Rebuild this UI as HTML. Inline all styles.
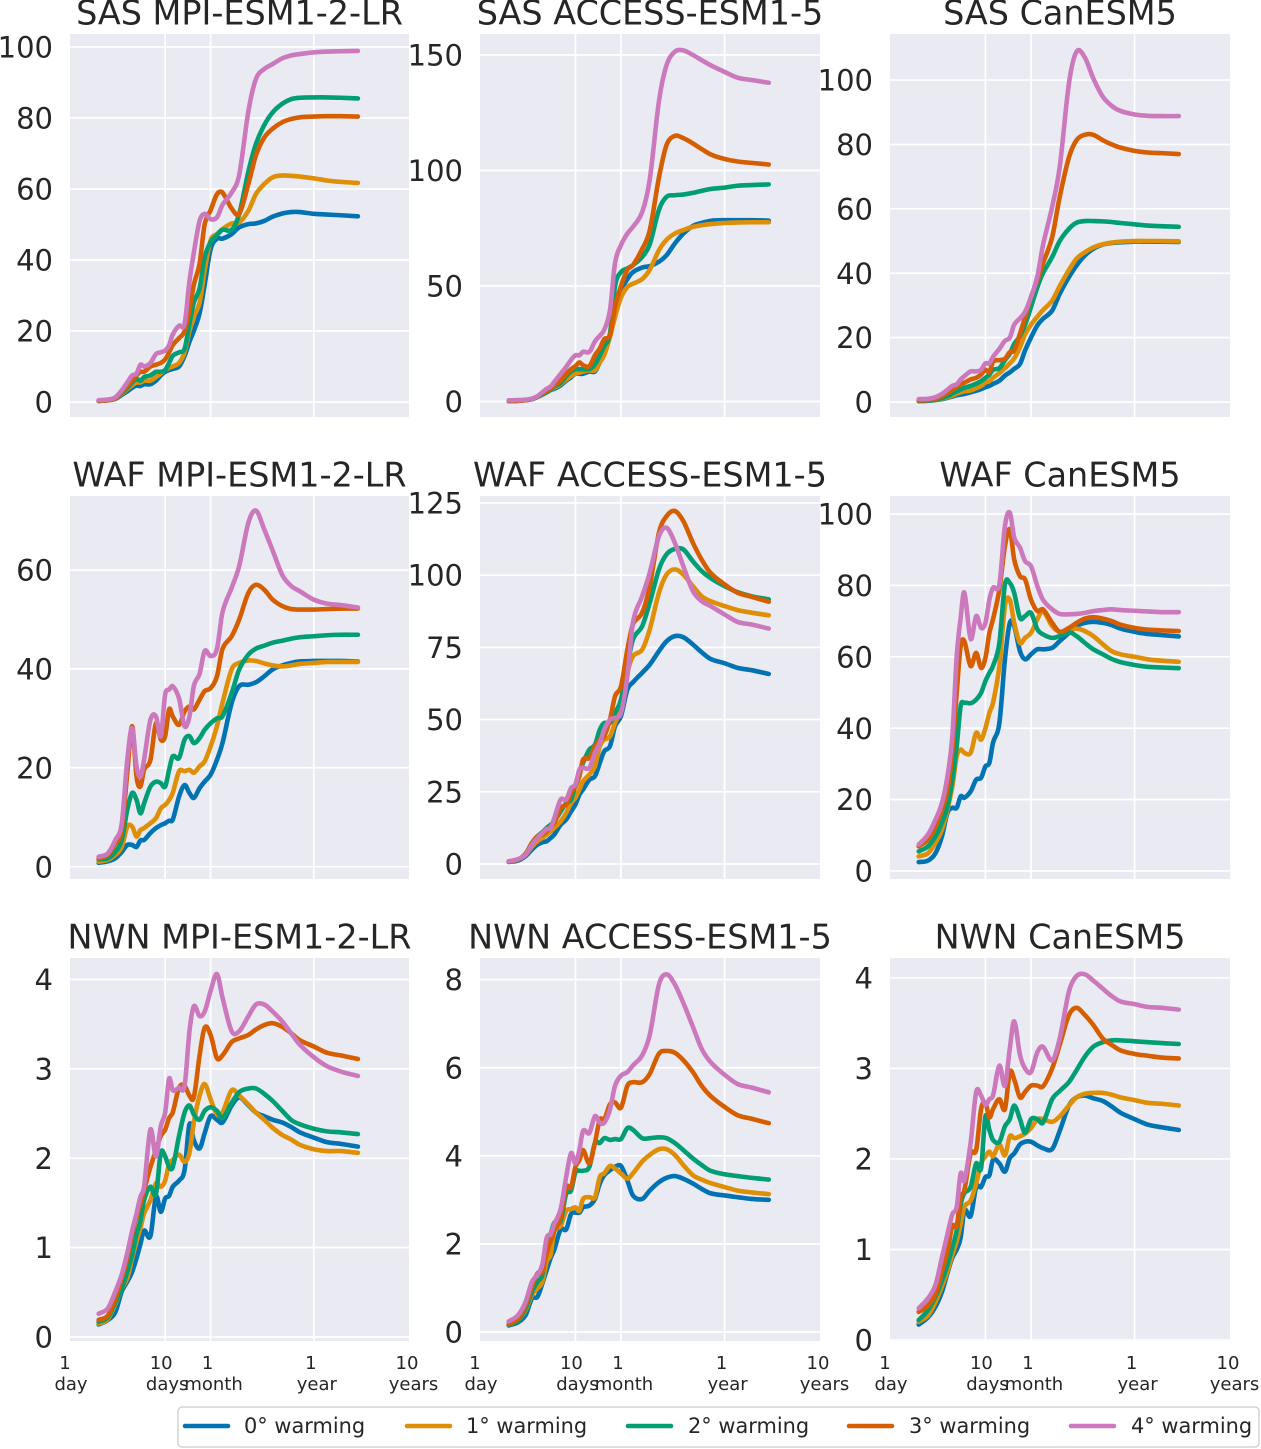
<!DOCTYPE html>
<html lang="en">
<head>
<meta charset="utf-8">
<title>Warming response by region and climate model</title>
<style>
html,body{margin:0;padding:0;background:#fff;width:1261px;height:1449px;overflow:hidden}
svg{display:block;font-family:"DejaVu Sans","Liberation Sans",sans-serif}
text{fill:#262626}
</style>
</head>
<body>
<svg id="chart" xmlns="http://www.w3.org/2000/svg" width="1261" height="1449" viewBox="0 0 1261 1449">
  <g id="panels"></g>
  <g>
    <rect x="178" y="1407" width="1081" height="40" rx="4" fill="#fff" stroke="#cccccc" stroke-width="1.3"/>
    <g>
      <line x1="185" x2="228" y1="1426" y2="1426" stroke="#0173b2" stroke-width="4.5" stroke-linecap="round"/>
      <text x="244" y="1433" font-size="20.9">0° warming</text>
    </g>
    <g>
      <line x1="407" x2="450" y1="1426" y2="1426" stroke="#de8f05" stroke-width="4.5" stroke-linecap="round"/>
      <text x="466" y="1433" font-size="20.9">1° warming</text>
    </g>
    <g>
      <line x1="628" x2="671" y1="1426" y2="1426" stroke="#029e73" stroke-width="4.5" stroke-linecap="round"/>
      <text x="688" y="1433" font-size="20.9">2° warming</text>
    </g>
    <g>
      <line x1="849" x2="892" y1="1426" y2="1426" stroke="#d55e00" stroke-width="4.5" stroke-linecap="round"/>
      <text x="909" y="1433" font-size="20.9">3° warming</text>
    </g>
    <g>
      <line x1="1071" x2="1114" y1="1426" y2="1426" stroke="#cc78bc" stroke-width="4.5" stroke-linecap="round"/>
      <text x="1131" y="1433" font-size="20.9">4° warming</text>
    </g>
  </g>
</svg>
<script>
// Time axis categories (days after onset)
const days = [2,2.5,3,3.5,4,4.5,5,5.5,6,7,
  8,9,10,11,12,14,16,18,20,23,
  26,30,35,40,50,60,75,90,110,135,
  170,210,260,365,500,700,1060];
const xTickDays = [1,10,30,365,3650];
const xTickNumbers = ['1','10','1','1','10'];
const xTickUnits = ['day','days','month','year','years'];
const xGridDays = [10,30,365];

// SAS MPI-ESM1-2-LR
const sasMpi0 = [.3,.5,.9,2,3,4,4.6,4.5,5,5, 6,7.5,8.5,9,9.3,10,13,17,20,25, 33,43,46,46,47.3,49.2,50.1,50.3,51,52.2, 53.1,53.5,53.5,53,52.8,52.6,52.3];
const sasMpi1 = [.3,.5,1,2.3,3.6,4.7,5.5,5.5,6,6, 7,8,9,9.6,10,11,14,20,24,28, 37,45.5,47.3,48.7,50.3,50.6,53.9,58.6,61.4,63.3, 63.8,63.7,63.5,63,62.4,62,61.7];
const sasMpi2 = [.3,.5,1,2.5,4,5.5,6.5,6,7,7.5, 8.5,8.5,9,11,13,14,15,22,28,32, 40.7,45,47,48.5,48.5,53,65,72.7,78,81.6, 84,85.3,85.7,85.8,85.8,85.7,85.5];
const sasMpi3 = [.3,.5,1,2.8,4.5,6,7.5,8.5,8.5,10, 10.5,11,12,14,16,18,20,26,33,39, 50,54,58.5,59,54.5,53,61.5,69.5,74.5,77, 78.8,79.7,80.2,80.4,80.5,80.5,80.4];
const sasMpi4 = [.5,.7,1.3,3.3,5.5,7.5,8,10.5,10,11, 13.5,14,14.5,16,19,21.5,22,34,42,51, 53,51.5,52,55.5,59,64,82,91,93.8,95.2, 96.8,97.6,98,98.5,98.7,98.8,98.9];
const sasMpiTicks = [0,20,40,60,80,100];

// SAS ACCESS-ESM1-5
const sasAcc0 = [.2,.3,.6,1,2,3,4,5,5.5,7, 9,10.5,12,12,12,13,13,17,21,29, 39.5,48,53,56,58,58.6,60.5,63.3,68.4,72.7, 76,77.3,78.2,78.5,78.5,78.5,78.3];
const sasAcc1 = [.2,.3,.6,1,2,3,4,5,6,7.5, 9.5,11,12,12.5,13,13.5,13.5,17,20,28, 36.6,45,49.6,51,53,57,65.5,70,72.7,74.2, 75.6,76.3,76.8,77.3,77.5,77.6,77.6];
const sasAcc2 = [.2,.3,.6,1,2,3,4,5,6.5,8, 11,13,14,14,14,14,16,20,24,29.4, 50,56,57.6,59,62.6,68,83,88.6,89.3,89.6, 90.3,91.2,92,92.6,93.4,93.7,94];
const sasAcc3 = [.2,.3,.6,1.2,2.2,3.5,4.5,5.5,7,9, 12,14,15.3,16.9,15.7,15.3,20,23,27,28.7, 41,50,57,59,66,74,97,111,115,114, 111.7,109.3,107,105,103.9,103.3,102.6];
const sasAcc4 = [.5,.6,.8,1.2,2.3,4,5.5,6.5,8.5,12, 15,18,20,20,21.5,21.5,26,28.5,31,39.5, 60,67.7,72.7,75.6,82,96,130,145.6,151.4,152, 150,147.8,145.6,142.7,140.2,139.2,138];
const sasAccTicks = [0,50,100,150];

// SAS CanESM5
const sasCan0 = [.3,.4,.6,.9,1.3,1.7,2.1,2.3,2.5,3, 3.5,4,4.6,5,5.6,6.6,8.2,9.2,10.3,11.8, 16,20,23.8,25.8,28.4,33.6,38.8,42.4,45.5,47.6, 48.9,49.4,49.6,49.8,49.8,49.8,49.7];
const sasCan1 = [.3,.4,.7,1,1.5,2,2.6,3,3.3,3.6, 4.3,5,6,6.5,7.5,9,10.5,12,13.5,17, 21,24,26.5,28.5,31.5,36,41,44.5,46.5,48, 49,49.5,49.8,50,50,50,49.9];
const sasCan2 = [.3,.4,.7,1.2,1.8,2.6,3.3,3.9,4.4,5, 5.7,6.5,7.5,8.5,10,10.5,13,15,18,20.5, 24,29.5,35.7,40,45,50,53.8,55.7,56.2,56.2, 56.1,55.9,55.6,55.2,54.8,54.6,54.4];
const sasCan3 = [.5,.6,1,1.8,2.8,3.8,4.7,5.5,6,7, 7.5,8.5,10,9.3,12.5,13,13.4,15.5,16,21.2, 26.3,32.6,37.8,43,51.2,63.7,76,81.3,83,83, 81.3,80,79,78,77.5,77.3,77];
const sasCan4 = [.9,1,1.5,2.5,3.8,5,5.5,7,8,9.5, 9.5,10,12,12,14,16.5,19,20,24,26, 28,32.6,39,48.6,60.6,73,99,108.8,107,100.5, 94.8,92,90.4,89.3,88.9,88.8,88.8];
const sasCanTicks = [0,20,40,60,80,100];

// WAF MPI-ESM1-2-LR
const wafMpi0 = [.8,1.1,1.7,3,4.4,4.4,4,5.3,5.4,6.8, 7.8,8.4,8.8,9.3,9.5,14.2,16.5,14.9,13.9,15.9, 17.2,18.6,21.6,25,33.1,36.5,36.8,37.3,38.5,39.9, 40.7,41.2,41.5,41.6,41.6,41.6,41.5];
const wafMpi1 = [1,1.4,2.4,4,8.1,8.1,6.1,7.4,7.8,8.8, 9.8,11.8,12.5,13.5,14.9,19.3,19.3,19.6,19,20.3, 21.3,24.3,28.4,33.1,39.9,41.2,41.7,41.6,41.1,40.7, 40.5,40.7,41,41.2,41.4,41.4,41.4];
const wafMpi2 = [1.5,1.7,3,5.4,11.5,14.9,13.5,10.8,12.8,16.2, 17.2,16.9,16.2,19.6,22.3,22,25.7,26.4,25,26, 27.7,29,30,30.4,35.1,39.9,42.9,44.1,44.7,45.3, 45.7,46.1,46.4,46.6,46.8,46.9,46.9];
const wafMpi3 = [1.7,2.4,4.7,7.4,19,28.4,18.2,16.2,19.6,21.6, 29,25.7,26.4,31.8,30.4,28.7,31.4,32.4,31.8,33.8, 35.5,36.1,38.5,44,46.6,50,55.4,57,56,54, 52.7,52.1,52,52,52.1,52.2,52.2];
const wafMpi4 = [2,2.7,5.4,8.8,21.6,28,20.3,18.2,21.6,29.7, 30.4,26.4,34.8,35.8,36.5,34,28.4,30.4,36.5,39, 43.6,42.6,44,51.4,56.4,60.8,69.6,72,68.2,63.9, 59,56.8,55.7,54,53.2,52.9,52.4];
const wafMpiTicks = [0,20,40,60];

// WAF ACCESS-ESM1-5
const wafAcc0 = [.7,1.2,2.7,5,6.7,7.5,7.9,9,10.2,13.6, 15.4,18.2,20.6,24,25.8,29.2,30.4,35,39,40.8, 47.7,51.2,60.4,62.9,66.2,69,73.7,77.1,78.9,78.5, 76,73.3,71,69.5,67.9,67.1,65.8];
const wafAcc1 = [.9,1.5,3.2,6,7.9,9,10.2,11.3,12.5,14.8, 17.7,21.1,22.9,25.8,28.6,31,33.8,40.8,43,44.2, 48.8,54,66.2,71.9,74.2,81.2,93.9,100.2,102,100.2, 96.2,92.7,91,89.3,87.9,87,86.1];
const wafAcc2 = [.9,1.5,3.5,7.3,9.6,11,12.5,13.6,14.8,18.2, 21.1,22.3,27.5,31.5,35,39.6,41.3,46.5,48.8,48.8, 52.3,56.9,68.5,77.7,82.3,90.4,102,107.2,109.1,108.9, 104.8,101.4,99,96.2,94.1,92.7,91.6];
const wafAcc3 = [.9,1.5,3.5,7.3,9.6,10.2,11.3,13,14.2,19.4, 20.6,24.6,26.9,30.4,36.1,36.7,40.8,43,44.2,50, 58.1,61.5,74.2,82.9,87,96.2,114.7,120.4,122.2,118.7, 111.2,105.4,100.8,96.8,93.9,92.5,90.8];
const wafAcc4 = [.9,1.7,3.2,6.7,9,10.7,12.1,12.5,15.9,22.3, 22.3,26.3,27.5,32.7,33.3,33.3,38.5,41.9,46.5,50, 50.6,52.3,65,83.5,92.7,100.8,113.5,116.4,111.2,103.1, 94.5,91,89.3,86.4,83.8,82.9,81.5];
const wafAccTicks = [0,25,50,75,100,125];

// WAF CanESM5
const wafCan0 = [2.5,2.9,5,9.7,16.3,17.7,17.7,20.9,20.5,22.3, 25.6,26.1,29.3,30.3,35.9,41.5,59.3,69.5,68.6,61.6, 59.3,60.7,62.1,62.1,62.5,64.4,66.7,68.6,69.5,69.8, 69.5,68.9,67.9,67,66.4,66.1,65.7];
const wafCan1 = [4.1,5,7.9,11.6,17.2,23.7,32.1,34,33.1,33.1, 38.7,36.8,40,44.3,47.1,57.4,74.2,76,69.5,63.9, 65.3,66.7,70.5,72.8,68.6,67,67.7,67.9,67.2,65.8, 63.5,61.6,60.7,60,59.3,58.9,58.6];
const wafCan2 = [5.5,6.9,9.7,13.5,18.1,25.6,35,46.2,47.1,47, 48,49.9,53.2,55.5,57.4,63.9,80.3,80.7,77.9,70.9, 71.4,72.3,67.7,66.3,65.3,65.8,66.9,65.8,63.9,62.1, 60.7,59.4,58.5,57.7,57.2,57,56.8];
const wafCan3 = [6.9,8.8,12.5,17.2,22.8,34,49.9,63,64.4,57.4, 61.1,56.9,59.7,66.7,70.5,78.9,91,95.7,87.3,82.6, 81.7,76,72.8,73.3,69.5,67,68.1,69.5,70.7,71.1, 70.7,70,69,68.1,67.6,67.4,67.2];
const wafCan4 = [7.4,10.2,14.4,19,26.5,37.8,60.2,70.9,78,65, 71.4,68.1,69.5,76,79.3,80.3,96.6,100.4,93.4,90.6, 86.8,85.4,79.8,76,73.3,72,71.9,72,72.3,72.8, 73.1,73.3,73.1,72.9,72.7,72.5,72.5];
const wafCanTicks = [0,20,40,60,80,100];

// NWN MPI-ESM1-2-LR
const nwnMpi0 = [.14,.19,.28,.51,.62,.73,.88,1.04,1.19,1.13, 1.57,1.4,1.55,1.58,1.68,1.75,1.87,2.38,2.2,2.11, 2.28,2.47,2.43,2.4,2.59,2.68,2.59,2.51,2.47,2.43, 2.4,2.35,2.29,2.23,2.18,2.16,2.13];
const nwnMpi1 = [.15,.2,.37,.54,.66,.88,1.07,1.22,1.38,1.53, 1.72,1.68,1.75,1.94,1.98,2.04,1.96,2.06,2.4,2.7, 2.83,2.66,2.49,2.51,2.76,2.7,2.6,2.51,2.43,2.34, 2.26,2.21,2.15,2.1,2.08,2.08,2.06];
const nwnMpi2 = [.17,.22,.39,.54,.73,.92,1.15,1.3,1.53,1.68, 1.6,2.06,2.02,1.9,1.9,2.25,2.51,2.59,2.49,2.43, 2.53,2.57,2.53,2.45,2.62,2.74,2.78,2.78,2.72,2.64, 2.53,2.43,2.38,2.33,2.3,2.29,2.27];
const nwnMpi3 = [.19,.24,.43,.66,.88,1.15,1.34,1.49,1.64,1.9, 2.09,2.25,2.32,2.45,2.51,2.79,2.81,2.7,2.68,3.15, 3.46,3.38,3.12,3.15,3.3,3.34,3.38,3.44,3.49,3.51, 3.47,3.4,3.32,3.25,3.18,3.15,3.11];
const nwnMpi4 = [.26,.32,.51,.7,.94,1.19,1.38,1.57,1.68,2.32, 2.02,2.36,2.51,2.89,2.76,2.79,2.81,3.42,3.7,3.59, 3.64,3.87,4.06,3.8,3.42,3.42,3.59,3.72,3.72,3.64, 3.53,3.4,3.27,3.13,3.03,2.97,2.92];
const nwnMpiTicks = [0,1,2,3,4];

// NWN ACCESS-ESM1-5
const nwnAcc0 = [.15,.22,.38,.76,.8,1.1,1.41,1.68,1.87,2.33, 2.33,2.68,2.71,2.71,2.83,2.87,3.02,3.37,3.56,3.67, 3.75,3.77,3.44,3.1,3.02,3.21,3.4,3.5,3.54,3.48, 3.37,3.25,3.15,3.1,3.06,3.02,3];
const nwnAcc1 = [.17,.26,.49,.84,.99,1.14,1.6,1.76,2.29,2.41, 2.75,2.79,2.83,2.75,3.02,3.06,3.06,3.52,3.6,3.77, 3.71,3.6,3.48,3.6,3.87,4.02,4.15,4.15,4.02,3.79, 3.56,3.46,3.38,3.29,3.21,3.17,3.13];
const nwnAcc2 = [.17,.26,.53,.91,1.14,1.3,1.91,2.22,2.48,2.52, 3.14,3.21,3.63,3.66,3.66,3.75,4.29,4.29,4.4,4.36, 4.38,4.38,4.63,4.59,4.4,4.4,4.42,4.4,4.29,4.13, 3.94,3.79,3.66,3.58,3.54,3.5,3.46];
const nwnAcc3 = [.18,.3,.6,1.03,1.33,1.37,1.79,2.06,2.29,2.6, 3.29,3.29,3.75,3.9,4.13,3.83,4.29,4.82,4.82,5.17, 5.21,5.09,5.59,5.67,5.67,5.86,6.32,6.38,6.34,6.17, 5.9,5.59,5.36,5.11,4.92,4.84,4.74];
const nwnAcc4 = [.24,.38,.68,1.14,1.3,1.53,2.14,2.22,2.45,2.79, 3.52,4.06,3.83,4.13,4.56,4.52,4.9,4.75,4.75,5.05, 5.59,5.82,5.9,6.05,6.28,6.74,7.89,8.12,7.89,7.47, 6.93,6.43,6.13,5.84,5.63,5.55,5.44];
const nwnAccTicks = [0,2,4,6,8];

// NWN CanESM5
const nwnCan0 = [.17,.25,.37,.53,.74,.91,1,1.13,1.43,1.37, 1.69,1.69,1.8,1.82,1.99,1.95,1.86,2.01,2.06,2.16, 2.19,2.19,2.15,2.12,2.11,2.31,2.59,2.68,2.7,2.67, 2.64,2.58,2.51,2.44,2.38,2.35,2.32];
const nwnCan1 = [.2,.27,.42,.59,.76,.94,1.09,1.28,1.47,1.54, 1.73,1.95,2.03,2.08,2.03,2.16,2.04,2.25,2.23,2.25, 2.28,2.34,2.44,2.44,2.41,2.47,2.59,2.68,2.72,2.73, 2.73,2.71,2.68,2.65,2.62,2.61,2.59];
const nwnCan2 = [.22,.33,.48,.65,.83,1.02,1.21,1.5,1.62,1.69, 1.95,1.9,2.47,2.32,2.21,2.19,2.36,2.44,2.59,2.44, 2.29,2.44,2.44,2.4,2.66,2.75,2.85,2.98,3.13,3.24, 3.29,3.31,3.31,3.3,3.29,3.28,3.27];
const nwnCan3 = [.31,.38,.51,.76,.98,1.26,1.26,1.58,1.65,2.06, 2.1,2.55,2.62,2.46,2.55,2.66,2.55,2.96,2.88,2.68, 2.74,2.81,2.81,2.8,3,3.26,3.59,3.67,3.59,3.48, 3.33,3.26,3.2,3.16,3.14,3.12,3.11];
const nwnCan4 = [.35,.46,.61,.91,1.17,1.39,1.47,1.84,1.76,2.18, 2.74,2.7,2.6,2.66,2.7,3.03,2.81,3.22,3.52,3.15, 3,2.96,3.18,3.24,3.09,3.33,3.85,4.02,4.04,3.97, 3.88,3.8,3.74,3.71,3.68,3.67,3.65];
const nwnCanTicks = [0,1,2,3,4];

const warmingLevels = ['0','1','2','3','4'];
const seriesColors = ['#0173b2','#de8f05','#029e73','#d55e00','#cc78bc'];

const panelTitles = ['SAS MPI-ESM1-2-LR','SAS ACCESS-ESM1-5','SAS CanESM5',
  'WAF MPI-ESM1-2-LR','WAF ACCESS-ESM1-5','WAF CanESM5',
  'NWN MPI-ESM1-2-LR','NWN ACCESS-ESM1-5','NWN CanESM5'];
const panelSeries = [
  [sasMpi0,sasMpi1,sasMpi2,sasMpi3,sasMpi4],[sasAcc0,sasAcc1,sasAcc2,sasAcc3,sasAcc4],[sasCan0,sasCan1,sasCan2,sasCan3,sasCan4],
  [wafMpi0,wafMpi1,wafMpi2,wafMpi3,wafMpi4],[wafAcc0,wafAcc1,wafAcc2,wafAcc3,wafAcc4],[wafCan0,wafCan1,wafCan2,wafCan3,wafCan4],
  [nwnMpi0,nwnMpi1,nwnMpi2,nwnMpi3,nwnMpi4],[nwnAcc0,nwnAcc1,nwnAcc2,nwnAcc3,nwnAcc4],[nwnCan0,nwnCan1,nwnCan2,nwnCan3,nwnCan4]];
const panelTicks = [sasMpiTicks,sasAccTicks,sasCanTicks,wafMpiTicks,wafAccTicks,wafCanTicks,nwnMpiTicks,nwnAccTicks,nwnCanTicks];
const yLower = [-4.23,-6.71,-4.66,-2.49,-5.19,-2.24,-0.045,-0.204,-0.011];
const yUpper = [103.66,159.1,114.3,74.96,127.4,105.04,4.24,8.49,4.22];

// Layout
const NS = 'http://www.w3.org/2000/svg';
const colLeft = [70,480,890];
const colWidth = [339,340,340];
const rowTop = [34,496,958];
const plotH = 383;
const xMinDay = 1, xMaxDay = 3650;
const numberNudge = [-5,-4,-3,-3,-2];
const unitNudge = [1,2,3,3,4.5];

function slug(s){return s.toLowerCase().replace(/[^a-z0-9]+/g,'-');}
function make(tag, parent, attrs){
  const el = document.createElementNS(NS, tag);
  for (const k in attrs) el.setAttribute(k, attrs[k]);
  parent.appendChild(el);
  return el;
}
function smoothPath(px, py){
  const n = px.length, slope = [];
  for (let i = 0; i < n; i++){
    const a = Math.max(0, i-1), b = Math.min(n-1, i+1);
    slope.push((py[b]-py[a])/(px[b]-px[a]));
  }
  let d = 'M' + px[0].toFixed(2) + ' ' + py[0].toFixed(2);
  for (let i = 0; i < n-1; i++){
    const h = (px[i+1]-px[i])/3;
    d += 'C' + (px[i]+h).toFixed(2) + ' ' + (py[i]+slope[i]*h).toFixed(2) + ' ' +
         (px[i+1]-h).toFixed(2) + ' ' + (py[i+1]-slope[i+1]*h).toFixed(2) + ' ' +
         px[i+1].toFixed(2) + ' ' + py[i+1].toFixed(2);
  }
  return d;
}

const root = document.getElementById('panels');
panelTitles.forEach(function(title, p){
  const left = colLeft[p % 3], plotW = colWidth[p % 3], top = rowTop[Math.floor(p / 3)], bottom = top + plotH;
  const name = slug(title);
  const xScale = function(d){
    return left + plotW * Math.log10(d / xMinDay) / Math.log10(xMaxDay / xMinDay);
  };
  const yScale = function(v){
    return bottom - plotH * (v - yLower[p]) / (yUpper[p] - yLower[p]);
  };

  const g = make('g', root, {});
  
  

  const bg = make('rect', g, {x:left, y:top, width:plotW, height:plotH, fill:'#eaeaf2'});
  
  

  panelTicks[p].forEach(function(v){
    const y = yScale(v);
    const line = make('line', g, {x1:left, x2:left+plotW, y1:y, y2:y, stroke:'#fff', 'stroke-width':1.7});
    
    
    const label = make('text', g, {x:left-17, y:y+10.6, 'text-anchor':'end', 'font-size':29});
    
    
    label.textContent = String(v);
  });

  xGridDays.forEach(function(d){
    const x = xScale(d);
    const line = make('line', g, {x1:x, x2:x, y1:top, y2:bottom, stroke:'#fff', 'stroke-width':1.7});
    
    
  });

  panelSeries[p].forEach(function(values, s){
    const px = days.map(xScale);
    const py = values.map(yScale);
    const path = make('path', g, {d:smoothPath(px, py), fill:'none', stroke:seriesColors[s], 'stroke-width':4.6, 'stroke-linecap':'round', 'stroke-linejoin':'round'});
    
    
  });

  const ttl = make('text', g, {x:left+plotW/2, y:top-9.5, 'text-anchor':'middle', 'font-size':33.4});
  
  
  ttl.textContent = title;

  if (p >= 6){
    xTickDays.forEach(function(d, i){
      const x = xScale(d);
      const num = make('text', g, {x:x+numberNudge[i], y:bottom+28, 'text-anchor':'middle', 'font-size':18});
      
      
      num.textContent = xTickNumbers[i];
      const unit = make('text', g, {x:x+unitNudge[i], y:bottom+49, 'text-anchor':'middle', 'font-size':18});
      
      
      unit.textContent = xTickUnits[i];
    });
  }
});
</script>
</body>
</html>
